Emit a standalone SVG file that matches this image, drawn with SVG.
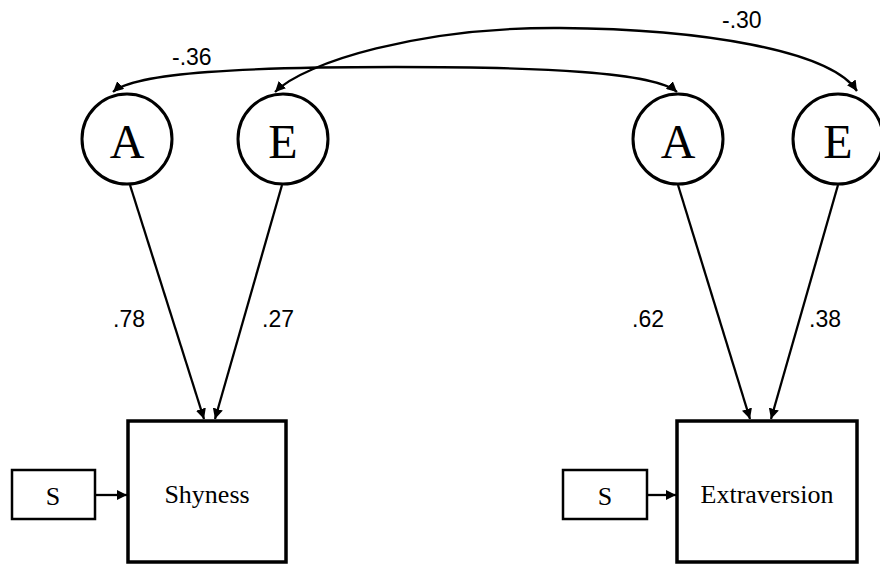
<svg xmlns="http://www.w3.org/2000/svg" width="880" height="565" viewBox="0 0 880 565">
<defs>
<marker id="arr" viewBox="0 0 10 10" refX="10" refY="5" markerWidth="4.5" markerHeight="4.5" orient="auto" markerUnits="strokeWidth">
<path d="M0,0 L10,5 L0,10 Z" fill="#000"/>
</marker>
</defs>
<style>
.lat circle{fill:#fff;stroke:#000;stroke-width:3}
.lat text{font-family:"Liberation Serif","Times New Roman",serif;font-size:48px;text-anchor:middle;fill:#000}
.obs rect{fill:#fff;stroke:#000;stroke-width:3.5}
.err rect{fill:#fff;stroke:#000;stroke-width:2.5}
.obs text,.err text{font-family:"Liberation Serif","Times New Roman",serif;font-size:26px;text-anchor:middle;fill:#000}
.conn path,.conn line{fill:none;stroke:#000;stroke-width:2.3;marker-end:url(#arr)}
.lbl{font-family:"Liberation Sans",Arial,sans-serif;font-size:23px;fill:#000}
</style>
<rect width="880" height="565" fill="#fff"/>
<g id="A1" class="lat"><circle cx="127" cy="139" r="45"/><text x="127" y="158">A</text></g>
<g id="E1" class="lat"><circle cx="283" cy="139" r="45"/><text x="283" y="158">E</text></g>
<g id="A2" class="lat"><circle cx="678" cy="139" r="45"/><text x="678" y="158">A</text></g>
<g id="E2" class="lat"><circle cx="838" cy="139" r="45"/><text x="838" y="158">E</text></g>
<g id="Shyness" class="obs"><rect x="128" y="421" width="158" height="141"/><text x="207" y="503">Shyness</text></g>
<g id="Extraversion" class="obs"><rect x="677" y="421" width="180" height="141"/><text x="767" y="503">Extraversion</text></g>
<g id="S1" class="err"><rect x="12" y="470" width="83" height="49"/><text x="53" y="505">S</text></g>
<g id="S2" class="err"><rect x="563" y="470" width="84" height="49"/><text x="605" y="505">S</text></g>
<g id="connectors" class="conn">
<line x1="130" y1="185" x2="204" y2="419"/>
<line x1="282" y1="185" x2="215" y2="419"/>
<line x1="678" y1="185" x2="750" y2="419"/>
<line x1="838" y1="185" x2="771" y2="419"/>
<line x1="96" y1="495" x2="127" y2="495"/>
<line x1="648" y1="495" x2="676" y2="495"/>
<path d="M395,67 C250,67 135,72 113,92"/>
<path d="M395,67 C540,67 655,72 677,92"/>
<path d="M560,28 C420,27 305,62 275,92"/>
<path d="M560,28 C700,29 830,50 857,91"/>
</g>
<g id="labels">
<text class="lbl" x="113" y="327">.78</text>
<text class="lbl" x="262" y="327">.27</text>
<text class="lbl" x="632" y="327">.62</text>
<text class="lbl" x="809" y="327">.38</text>
<text class="lbl" x="172" y="65">-.36</text>
<text class="lbl" x="722" y="28">-.30</text>
</g>
</svg>
